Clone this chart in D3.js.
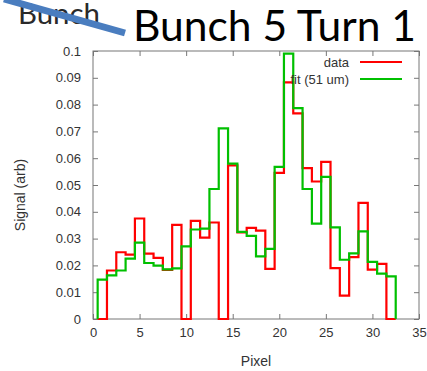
<!DOCTYPE html>
<html>
<head>
<meta charset="utf-8">
<script src="https://cdn.jsdelivr.net/npm/d3@7"></script>
<style>
  html, body { margin: 0; padding: 0; background: #fff; }
  svg { display: block; }
  .tick text { font-family: 'Liberation Sans', Arial, sans-serif; font-size: 13px; fill: #333; }
</style>
</head>
<body>
<svg id="chart" width="427" height="371"></svg>
<script>
// pixel bins 1..32 (centres)
const pixels = d3.range(1, 33)

// measured signal
const dataValues = [0, 0.0181, 0.0249, 0.024, 0.0375, 0.0244, 0.0228, 0.0183, 0.0351, 0,
  0.0366, 0.0304, 0.036, 0, 0.0573, 0.0323, 0.034, 0.033, 0.0187, 0.0545,
  0.0883, 0.0767, 0.0563, 0.0513, 0.0586, 0.019, 0.0087, 0.0231, 0.0433, 0.0184,
  0.0206, 0]

// fit (51 um)
const fitValues = [0.0147, 0.0163, 0.0181, 0.0225, 0.0285, 0.0209, 0.0199, 0.0185, 0.0189, 0.0271,
  0.0334, 0.0337, 0.0485, 0.0711, 0.058, 0.0325, 0.031, 0.0234, 0.0262, 0.0568,
  0.099, 0.0787, 0.0485, 0.0356, 0.053, 0.0342, 0.0221, 0.0245, 0.0327, 0.0213,
  0.0169, 0.0159]

const xTicks = [0, 5, 10, 15, 20, 25, 30, 35]
const yTicks = [0, 0.01, 0.02, 0.03, 0.04, 0.05, 0.06, 0.07, 0.08, 0.09, 0.1]

const series = [
  { name: 'data', values: dataValues, color: '#ff0000' },
  { name: 'fit (51 um)', values: fitValues, color: '#00c000' }
]

const margin = { top: 51, right: 8, bottom: 52, left: 93 }
const W = 427, H = 371
const width = W - margin.left - margin.right,
  height = H - margin.top - margin.bottom

const svg = d3.select('#chart')

// slide title and the crossed-out word behind it
let ghost = svg.append('text')
    .attr('x', 18)
    .attr('y', 24)
    .style('font-family', "Lato, 'Open Sans', sans-serif")
    .style('font-size', '25px')
    .style('fill', '#2a2a2a')
    .text('Bunch')
let gw = ghost.node().getComputedTextLength()
ghost.style('font-size', (25 * 82 / gw) + 'px')

svg.append('line')
    .attr('x1', 4).attr('y1', -1)
    .attr('x2', 125).attr('y2', 33)
    .style('stroke', '#4a7dbf')
    .style('stroke-width', 7)

let title = svg.append('text')
    .attr('x', 133)
    .attr('y', 41)
    .style('font-family', "Lato, 'Open Sans', sans-serif")
    .style('font-size', '36px')
    .style('fill', '#000')
    .text('Bunch 5 Turn 1')
let tw = title.node().getComputedTextLength()
title.style('font-size', (36 * 283 / tw) + 'px')

const g = svg.append('g')
    .attr('transform', `translate(${ margin.left },${ margin.top })`)

const x = d3.scaleLinear().domain([0, 35]).range([0, width])
const y = d3.scaleLinear().domain([0, 0.1]).range([height, 0])

const frameColor = '#777'

// bottom / left axes with inward ticks
let xAxis = g.append('g')
    .attr('transform', `translate(0,${ height })`)
    .call(d3.axisBottom(x).tickValues(xTicks).tickFormat(d3.format('d'))
      .tickSizeInner(-5).tickSizeOuter(0).tickPadding(9))

let yAxis = g.append('g')
    .call(d3.axisLeft(y).tickValues(yTicks).tickFormat(d => d === 0 ? '0' : d3.format('.2~f')(d))
      .tickSizeInner(-5).tickSizeOuter(0).tickPadding(12))

// mirrored ticks on top / right
let xTop = g.append('g')
    .call(d3.axisTop(x).tickValues(xTicks).tickFormat('').tickSizeInner(-5).tickSizeOuter(0))

let yRight = g.append('g')
    .attr('transform', `translate(${ width },0)`)
    .call(d3.axisRight(y).tickValues(yTicks).tickFormat('').tickSizeInner(-5).tickSizeOuter(0))

;[xAxis, yAxis, xTop, yRight].forEach(a => {
  a.select('.domain').remove()
  a.selectAll('.tick line').style('stroke', frameColor)
})

g.append('rect')
    .attr('width', width)
    .attr('height', height)
    .style('fill', 'none')
    .style('stroke', frameColor)
    .style('stroke-width', 1)

// step histograms
const stepLine = d3.line()
    .x(d => x(d[0]))
    .y(d => y(d[1]))

function stepPoints(values) {
  let pts = [[pixels[0] - 0.5, 0]]
  values.forEach((v, i) => {
    pts.push([pixels[i] - 0.5, v])
    pts.push([pixels[i] + 0.5, v])
  })
  pts.push([pixels[pixels.length - 1] + 0.5, 0])
  return pts
}

g.selectAll('path.hist')
    .data(series)
  .enter().append('path')
    .attr('class', 'hist')
    .attr('d', d => stepLine(stepPoints(d.values)))
    .style('fill', 'none')
    .style('stroke', d => d.color)
    .style('stroke-width', 2.2)
    .style('stroke-linejoin', 'miter')

// legend
let legend = g.selectAll('g.legend')
    .data(series)
  .enter().append('g')
    .attr('class', 'legend')
    .attr('transform', (d, i) => `translate(0,${ 11 + 17 * i })`)

legend.append('text')
    .attr('x', 256)
    .attr('dy', '0.35em')
    .attr('text-anchor', 'end')
    .style('font-family', "'Liberation Sans', Arial, sans-serif")
    .style('font-size', '13px')
    .style('fill', '#333')
    .text(d => d.name)

legend.append('line')
    .attr('x1', 267).attr('x2', 309)
    .style('stroke', d => d.color)
    .style('stroke-width', 2.2)

// axis titles
svg.append('text')
    .attr('x', margin.left + x(17.5))
    .attr('y', 366)
    .attr('text-anchor', 'middle')
    .style('font-family', "'Liberation Sans', Arial, sans-serif")
    .style('font-size', '14px')
    .style('fill', '#333')
    .text('Pixel')

svg.append('text')
    .attr('transform', `translate(25,195) rotate(-90)`)
    .attr('text-anchor', 'middle')
    .style('font-family', "'Liberation Sans', Arial, sans-serif")
    .style('font-size', '14px')
    .style('fill', '#333')
    .text('Signal (arb)')
</script>
</body>
</html>
